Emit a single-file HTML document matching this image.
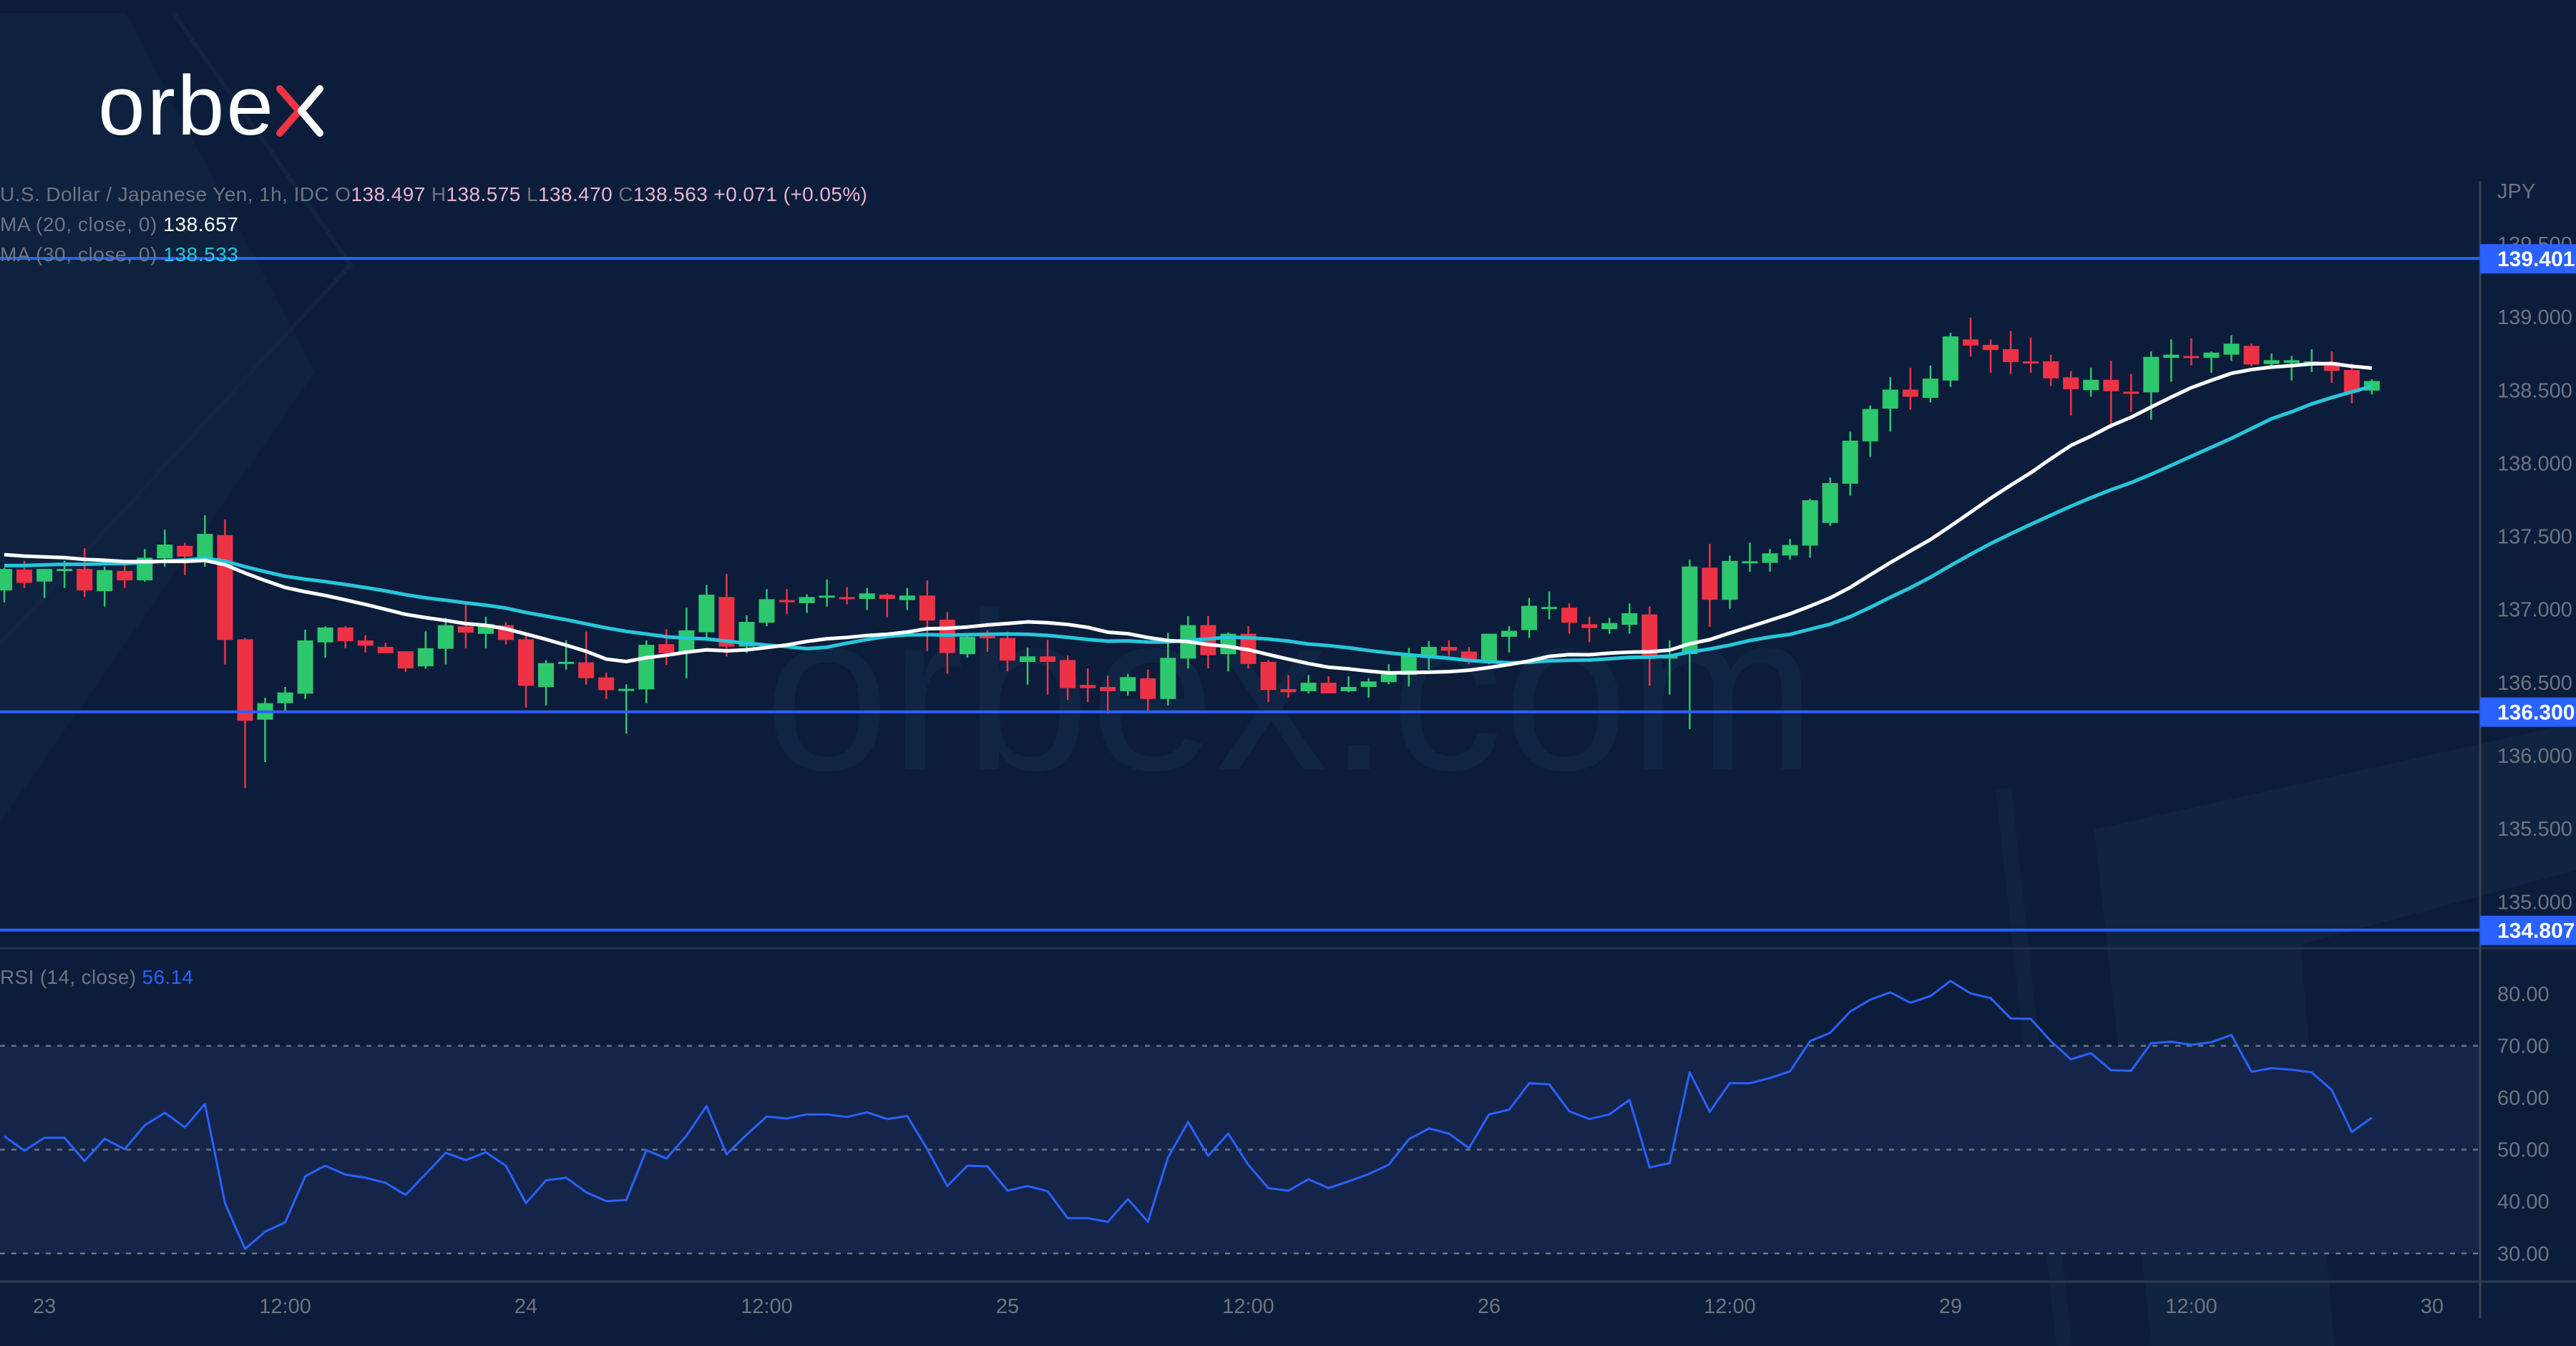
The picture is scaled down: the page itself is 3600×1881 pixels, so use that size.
<!DOCTYPE html>
<html><head><meta charset="utf-8"><title>USDJPY 1h chart</title>
<style>
html,body{margin:0;padding:0;background:#0b1d3a;}
svg{display:block;font-family:"Liberation Sans",sans-serif;}
</style></head>
<body>
<svg id="chart" xmlns="http://www.w3.org/2000/svg" width="3600" height="1881" viewBox="0 0 3600 1881">
  <rect x="0" y="0" width="3600" height="1881" fill="#0b1d3a"/>
  <polygon points="0,18 176,18 440,520 0,1150" fill="#0e213e"/>
  <polyline points="242,18 490,370 0,900" fill="none" stroke="#112542" stroke-width="6"/>
  <line x1="2800" y1="1102" x2="2885" y2="1881" stroke="#0f223f" stroke-width="22"/>
  <polygon points="2927,1159 3600,1010 3600,1216 3215,1320 3262,1881 3007,1881" fill="#10233f"/>
  <text x="1068" y="1075" font-size="315" textLength="1470" fill="#102443">orbex.com</text>
  <g id="logo">
    <text x="137" y="188" font-size="118" fill="#ffffff" textLength="245">orbe</text>
    <polyline points="391,124 418,155 391,186" fill="none" stroke="#ef3445" stroke-width="10" stroke-linecap="round" stroke-linejoin="round"/>
    <polyline points="447,124 421,155 447,186" fill="none" stroke="#ffffff" stroke-width="10" stroke-linecap="round" stroke-linejoin="round"/>
  </g>
  <g id="plot"></g>
  <g id="legend" font-size="28">
    <text x="0" y="281" fill="#6f7480" textLength="1212" lengthAdjust="spacing">U.S. Dollar / Japanese Yen, 1h, IDC  O<tspan fill="#e8b3d0">138.497</tspan>  H<tspan fill="#e8b3d0">138.575</tspan>  L<tspan fill="#e8b3d0">138.470</tspan>  C<tspan fill="#e8b3d0">138.563</tspan>  <tspan fill="#e8b3d0">+0.071 (+0.05%)</tspan></text>
    <text x="0" y="323" fill="#6f7480" textLength="333" lengthAdjust="spacing">MA (20, close, 0)  <tspan fill="#ffffff">138.657</tspan></text>
    <text x="0" y="365" fill="#6f7480" textLength="333" lengthAdjust="spacing">MA (30, close, 0)  <tspan fill="#26c6da">138.533</tspan></text>
    <text x="0" y="1375" fill="#6f7480" textLength="270" lengthAdjust="spacing">RSI (14, close)  <tspan fill="#2962ff">56.14</tspan></text>
  </g>
</svg>
<script>
const opens=[137.130,137.272,137.191,137.275,137.277,137.125,137.264,137.199,137.349,137.435,137.355,137.509,136.796,136.246,136.359,136.424,136.775,136.877,136.788,136.744,136.714,136.611,136.731,136.884,136.833,136.892,136.796,136.469,136.640,136.638,136.535,136.454,136.453,136.763,136.710,136.844,137.085,136.746,136.909,137.064,137.043,137.080,137.085,137.072,137.101,137.064,137.095,136.930,136.694,136.817,136.805,136.641,136.679,136.654,136.483,136.470,136.441,136.529,136.388,136.664,136.893,136.694,136.834,136.641,136.455,136.441,136.499,136.441,136.470,136.503,136.552,136.682,136.744,136.712,136.650,136.813,136.859,137.016,137.012,136.899,136.865,136.895,136.966,136.664,136.695,137.286,137.066,137.329,137.319,137.369,137.437,137.592,137.860,138.150,138.374,138.504,138.447,138.566,138.847,138.810,138.780,138.697,138.697,138.588,138.500,138.571,138.490,138.485,138.721,138.734,138.721,138.743,138.803,138.679,138.686,138.673,138.692,138.638,138.497];
const highs=[137.285,137.331,137.277,137.334,137.419,137.293,137.331,137.413,137.546,137.457,137.644,137.615,136.804,136.396,136.470,136.861,136.885,136.885,136.825,136.771,136.714,136.850,136.943,137.036,136.951,136.913,136.832,136.654,136.788,136.850,136.567,136.489,136.788,136.864,137.012,137.168,137.242,136.960,137.139,137.139,137.103,137.204,137.152,137.147,137.110,137.147,137.199,136.982,136.821,136.857,136.849,136.739,136.791,136.687,136.597,136.547,136.560,136.589,136.840,136.955,136.955,136.842,136.886,136.654,136.552,136.552,136.543,136.543,136.530,136.625,136.736,136.784,136.788,136.744,136.834,136.886,137.079,137.123,137.041,136.952,136.943,137.041,137.020,136.788,137.340,137.449,137.368,137.457,137.413,137.482,137.756,137.902,138.216,138.395,138.588,138.653,138.669,138.893,138.996,138.847,138.906,138.860,138.743,138.632,138.653,138.700,138.610,138.767,138.847,138.855,138.765,138.876,138.818,138.751,138.734,138.780,138.767,138.681,138.575];
const lows=[137.049,137.147,137.078,137.147,137.085,137.021,137.147,137.191,137.293,137.236,137.293,136.624,135.779,135.956,136.306,136.388,136.670,136.735,136.706,136.701,136.572,136.595,136.624,136.735,136.735,136.760,136.328,136.344,136.589,136.486,136.388,136.151,136.359,136.620,136.530,136.805,136.679,136.702,136.886,136.968,136.976,137.020,137.036,136.997,136.946,136.997,136.716,136.560,136.671,136.710,136.576,136.486,136.418,136.380,136.367,136.287,136.410,136.299,136.344,136.597,136.597,136.576,136.597,136.367,136.397,136.426,136.426,136.434,136.397,136.487,136.474,136.588,136.682,136.625,136.625,136.707,136.805,136.932,136.834,136.777,136.834,136.834,136.478,136.418,136.182,136.881,137.005,137.258,137.258,137.340,137.354,137.571,137.778,138.044,138.216,138.366,138.416,138.522,138.730,138.619,138.610,138.619,138.529,138.327,138.455,138.240,138.351,138.297,138.558,138.669,138.619,138.700,138.664,138.648,138.566,138.624,138.550,138.410,138.470];
const closes=[137.277,137.182,137.277,137.277,137.130,137.269,137.199,137.354,137.444,137.362,137.517,136.791,136.238,136.359,136.432,136.788,136.877,136.783,136.752,136.701,136.597,136.735,136.892,136.841,136.900,136.791,136.478,136.633,136.642,136.530,136.448,136.457,136.758,136.701,136.857,137.101,136.746,136.915,137.070,137.051,137.085,137.095,137.072,137.110,137.072,137.095,136.924,136.702,136.813,136.805,136.650,136.679,136.641,136.462,136.462,136.441,136.537,136.388,136.669,136.893,136.687,136.834,136.627,136.449,136.434,136.499,136.426,136.470,136.508,136.560,136.686,136.744,136.718,136.650,136.834,136.854,137.025,137.017,136.909,136.873,136.907,136.974,136.669,136.687,137.294,137.066,137.332,137.330,137.384,137.441,137.747,137.865,138.155,138.371,138.504,138.455,138.579,138.868,138.805,138.774,138.692,138.686,138.581,138.506,138.571,138.493,138.485,138.728,138.743,138.730,138.757,138.818,138.676,138.705,138.705,138.697,138.632,138.485,138.563];
const priorCloses=[137.15,137.15,137.15,137.15,137.15,137.15,137.15,137.15,137.15,137.15,137.38,137.38,137.38,137.38,137.38,137.38,137.38,137.38,137.38,137.38,137.38,137.38,137.38,137.38,137.38,137.38,137.38,137.38,137.38];
const rsiValues=[52.6,49.8,52.3,52.3,47.8,52.1,50.1,54.7,57.1,54.3,58.8,39.7,30.9,34.2,36.0,44.9,46.9,45.2,44.6,43.6,41.3,45.3,49.4,48.0,49.5,46.9,39.7,44.1,44.6,41.8,40.1,40.3,49.9,48.3,52.7,58.4,49.1,52.9,56.4,56.0,56.8,56.8,56.3,57.2,55.9,56.5,50.1,43.0,46.9,46.8,42.1,43.0,42.0,36.8,36.8,36.1,40.5,36.1,48.5,55.3,48.8,53.1,47.1,42.6,42.1,44.3,42.6,43.9,45.3,47.1,52.0,54.1,53.1,50.3,56.8,57.7,62.8,62.6,57.4,55.9,56.8,59.6,46.6,47.4,64.9,57.3,62.8,62.8,63.8,65.1,70.9,72.5,76.6,78.9,80.3,78.3,79.6,82.5,80.1,79.2,75.3,75.2,70.9,67.4,68.6,65.3,65.2,70.5,70.8,70.2,70.7,72.1,65.0,65.7,65.4,64.9,61.5,53.4,56.14];
const priceTicks=["139.500","139.000","138.500","138.000","137.500","137.000","136.500","136.000","135.500","135.000"];
const levelValues=[139.401,136.300,134.807];
const rsiTicks=["80.00","70.00","60.00","50.00","40.00","30.00"];
const rsiBands=[70,50,30];
const timeLabels=["23","12:00","24","12:00","25","12:00","26","12:00","29","12:00","30"];
const timeLabelBars=[2,14,26,38,50,62,74,86,97,109,121];

const NS="http://www.w3.org/2000/svg";
const AXIS_X=3466;
function xAt(i){return 6+28.04*i;}
function yPrice(p){return 443.1+(139-p)*204.3;}
function yRsi(v){return 1389+(80-v)*7.255;}
function mk(tag,attrs,parent){const e=document.createElementNS(NS,tag);for(const k in attrs)e.setAttribute(k,attrs[k]);parent.appendChild(e);return e;}
const plot=document.getElementById('plot');

const band=mk('rect',{x:0,y:yRsi(70),width:AXIS_X,height:yRsi(30)-yRsi(70),fill:'#15254a'},plot);


rsiBands.forEach(v=>{
  const l=mk('line',{x1:0,x2:AXIS_X,y1:yRsi(v),y2:yRsi(v),stroke:'#6b7385','stroke-width':2.5,'stroke-dasharray':'7 9'},plot);
  
  
});

const sep=mk('line',{x1:0,x2:3600,y1:1325,y2:1325,stroke:'#27324a','stroke-width':3},plot);


const tax=mk('line',{x1:0,x2:3600,y1:1791,y2:1791,stroke:'#2f3a50','stroke-width':3},plot);


const pax=mk('line',{x1:AXIS_X,x2:AXIS_X,y1:253,y2:1842,stroke:'#3a4356','stroke-width':3},plot);



const cg=mk('g',{},plot);


for(let i=0;i<closes.length;i++){
  const up=closes[i]>=opens[i];
  const col=up?'#2dc76d':'#ee3245';
  const x=xAt(i);
  const w=mk('line',{x1:x,x2:x,y1:yPrice(highs[i]),y2:yPrice(lows[i]),stroke:col,'stroke-width':2.5},cg);
  
  
  const top=yPrice(Math.max(opens[i],closes[i]));
  const h=Math.max(3,yPrice(Math.min(opens[i],closes[i]))-top);
  const b=mk('rect',{x:x-11,y:top,width:22,height:h,fill:col},cg);
  
  
}

function ma(n){
  const all=priorCloses.concat(closes);const off=priorCloses.length;const out=[];
  for(let i=0;i<closes.length;i++){
    const end=off+i;const start=Math.max(0,end-n+1);let s=0;
    for(let k=start;k<=end;k++)s+=all[k];
    out.push(s/(end-start+1));
  }
  return out;
}
const ma30=ma(30), ma20=ma(20);
const p30=mk('polyline',{points:ma30.map((v,i)=>xAt(i)+','+yPrice(v)).join(' '),fill:'none',stroke:'#26c6da','stroke-width':5,'stroke-linejoin':'round'},plot);


const p20=mk('polyline',{points:ma20.map((v,i)=>xAt(i)+','+yPrice(v)).join(' '),fill:'none',stroke:'#ffffff','stroke-width':5,'stroke-linejoin':'round'},plot);



const rl=mk('polyline',{points:rsiValues.map((v,i)=>xAt(i)+','+yRsi(v)).join(' '),fill:'none',stroke:'#2962ff','stroke-width':3,'stroke-linejoin':'round'},plot);



priceTicks.forEach(t=>{
  const e=mk('text',{x:3490,y:yPrice(parseFloat(t))+10,'font-size':29,fill:'#6f7480'},plot);
  e.textContent=t;
  
  
});
const jpy=mk('text',{x:3490,y:277,'font-size':29,fill:'#6f7480'},plot);
jpy.textContent='JPY';



levelValues.forEach(v=>{
  const y=yPrice(v);
  const l=mk('line',{x1:0,x2:AXIS_X,y1:y,y2:y,stroke:'#2962ff','stroke-width':4},plot);
  
  
  const r=mk('rect',{x:AXIS_X,y:y-20,width:134,height:41,fill:'#2962ff'},plot);
  
  
  const t=mk('text',{x:3490,y:y+11,'font-size':30,fill:'#ffffff','font-weight':'bold'},plot);
  t.textContent=v.toFixed(3);
  
  
});

rsiTicks.forEach(t=>{
  const e=mk('text',{x:3490,y:yRsi(parseFloat(t))+10,'font-size':29,fill:'#6f7480'},plot);
  e.textContent=t;
  
  
});

timeLabels.forEach((t,k)=>{
  const e=mk('text',{x:xAt(timeLabelBars[k]),y:1835,'font-size':29,fill:'#6f7480','text-anchor':'middle'},plot);
  e.textContent=t;
  
  
});
</script>
</body></html>
